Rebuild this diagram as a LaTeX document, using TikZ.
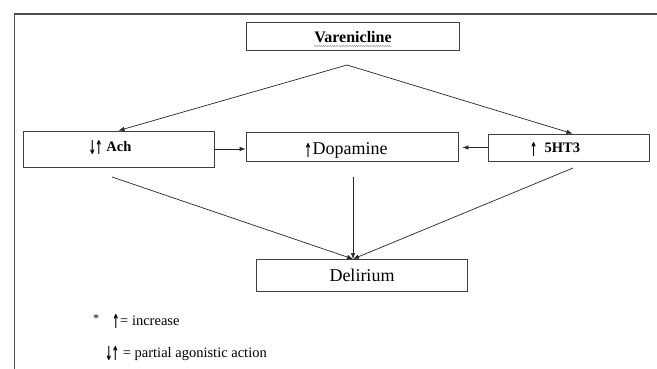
\documentclass[tikz,border=0pt]{standalone}
\usepackage{fontspec}
\usepackage{graphicx}
\setmainfont{Liberation Serif}
\newfontfamily\symfont{DejaVu Sans}
\usetikzlibrary{arrows.meta,decorations.pathmorphing}
\newcommand\uparr{\raisebox{-3pt}{\scalebox{0.75}[1.6]{\symfont\bfseries\fontsize{12}{12}\selectfont ↑}}}
\newcommand\dnarr{\raisebox{-3pt}{\scalebox{0.75}[1.6]{\symfont\bfseries\fontsize{12}{12}\selectfont ↓}}}
\begin{document}
\begin{tikzpicture}[x=1pt,y=-1pt,
  box/.style={draw=black!75, line width=0.8pt, rectangle, inner sep=0pt},
  conn/.style={draw=black!85, line width=0.7pt, -{Latex[length=6pt,width=4.5pt]}},
  txt/.style={inner sep=0pt, anchor=base},
  bigb/.style={font=\bfseries\fontsize{16}{16}\selectfont},
  midb/.style={font=\bfseries\fontsize{14.5}{14.5}\selectfont},
  bigr/.style={font=\fontsize{18}{18}\selectfont},
  leg/.style={font=\fontsize{14.5}{14.5}\selectfont, inner sep=0pt, anchor=base west}]
\useasboundingbox (0,0) rectangle (657,369);
\fill[white] (0,0) rectangle (657,369);
\draw[black!70, line width=1.3pt] (14.5,369) -- (14.5,14) -- (657,14);

% boxes
\node[box, minimum width=213pt, minimum height=28pt] (var) at (352.5,36) {};
\node[box, minimum width=191pt, minimum height=36pt] (ach) at (118.5,149) {};
\node[box, minimum width=212pt, minimum height=29pt] (dop) at (352,146.5) {};
\node[box, minimum width=161pt, minimum height=27pt] (ht) at (568.5,147.5) {};
\node[box, minimum width=211pt, minimum height=32pt] (del) at (361.5,275) {};

% texts
\node[txt, bigb] (vartxt) at (353,43) {Varenicline};
\draw[black!45, line width=0.4pt, decorate, decoration={snake, amplitude=0.6pt, segment length=2.2pt}]
  ([yshift=-3pt]vartxt.base west) -- ([yshift=-3pt]vartxt.base east);
\node[txt, midb] (achtxt) at (110,151) {\dnarr\kern-1pt\uparr\ Ach};
\node[txt, bigr] (doptxt) at (346,154) {\uparr\kern0.5pt Dopamine};
\node[txt, midb] (httxt) at (555,153) {\uparr\ \ 5HT3};
\node[txt, bigr] (deltxt) at (362,281) {Delirium};

% legend
\node[txt, font=\fontsize{12}{12}\selectfont] (star) at (96,322) {*};
\node[leg] (leg1) at (112,325) {\uparr\kern0.5pt= increase};
\node[leg] (leg2) at (105,357) {\dnarr\kern-1pt\uparr\ = partial agonistic action};

% connectors
\coordinate (apex) at (347,65);
\draw[conn] (apex) -- (ach.north);
\draw[conn] (apex) -- ([xshift=4pt]ht.north);
\draw[conn] (ach.east) -- (ach.east -| dop.west);
\draw[conn] (ht.west) -- ([xshift=4pt]ht.west -| dop.east);
\coordinate (dtip) at (353,259);
\coordinate (s1) at (112,177);
\coordinate (s2) at (353,177);
\coordinate (s3) at (573,168);
\draw[conn] (s1) -- (dtip);
\draw[conn] (s2) -- (dtip);
\draw[conn] (s3) -- (dtip);
\end{tikzpicture}
\end{document}
